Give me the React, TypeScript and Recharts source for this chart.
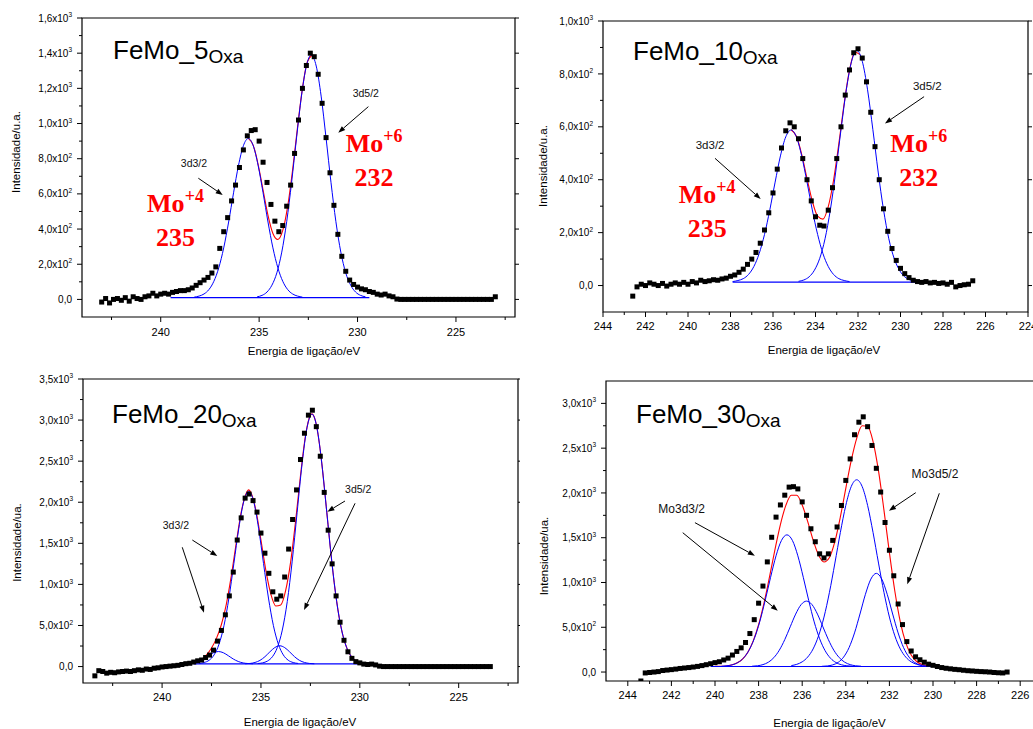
import React from "react";
import {
  ComposedChart,
  Line,
  Scatter,
  XAxis,
  YAxis,
  ReferenceArea,
  ReferenceLine,
  ReferenceDot,
} from "recharts";

const SANS = "'Liberation Sans', Arial, Helvetica, sans-serif";
const SERIF = "'Liberation Serif', 'Times New Roman', serif";

type Pt = { x: number; y: number };
const onGrid = (start: number, step: number, ys: number[]): Pt[] =>
  ys.map((y, i) => ({ x: Math.round((start - i * step) * 1000) / 1000, y }));
const onList = (xs: number[], ys: number[]): Pt[] => ys.map((y, i) => ({ x: xs[i], y }));

// ---------------- Panel 1 : FeMo_5 ----------------
const p1PointStart = 243.0;
const p1Points = [
  -15, 5, -20, 0, 5, -5, 10, -10, 15, 5,
  0, 15, 20, 35, 20, 30, 35, 30, 40, 45,
  50, 50, 55, 65, 80, 95, 110, 125, 150, 185,
  290, 385, 465, 560, 650, 750, 850, 930, 960, 965,
  900, 780, 665, 540, 445, 385, 420, 530, 650, 830,
  1020, 1200, 1330, 1400, 1380, 1280, 1115, 920, 720, 535,
  370, 245, 160, 110, 85, 70, 60, 55, 45, 40,
  30, 25, 30, 20, 15, 2,
  0, 0, 0, 0, 0, 0, 0, 0, 0, 0, 0, 0, 0, 0, 0, 0, 0, 0, 0, 0, 0, 0, 0, 0,
  15,
];
const p1CompAStart = 238.3;
const p1CompA = [13, 19, 31, 56, 103, 180, 293, 440, 606, 761, 874, 915, 874, 761, 606, 440, 293, 180, 103, 56, 31, 19, 13];
const p1CompBStart = 235.1;
const p1CompB = [15, 23, 42, 81, 151, 269, 442, 666, 918, 1156, 1327, 1390, 1327, 1156, 918, 666, 442, 269, 151, 81, 42, 23, 15];
const p1FitStart = 235.55;
const p1Fit = [916, 876, 767, 622, 478, 375, 341, 392, 529, 736, 978, 1200, 1351, 1390];
const p1BaseX = [239.5, 229.4];
const p1BaseY = [10, 10];
const p1XMajor = [240, 235, 230, 225];
const p1XMinor = [242.5, 237.5, 232.5, 227.5, 222.5];
const p1YMajor = [0, 200, 400, 600, 800, 1000, 1200, 1400, 1600];
const p1YMinor = [100, 300, 500, 700, 900, 1100, 1300, 1500];

// ---------------- Panel 2 : FeMo_10 ----------------
const p2PointStart = 242.6;
const p2Points = [
  -40, -5, 5, 0, 10, 5, 0, 8, -2, 5,
  10, 5, 12, 5, 15, 10, 20, 15, 18, 22,
  20, 25, 28, 35, 40, 50, 62, 80, 100, 125,
  160, 210, 275, 350, 440, 520, 585, 615, 600, 555,
  480, 400, 320, 260, 228, 225, 285, 370, 480, 600,
  720, 815, 880, 895, 860, 770, 655, 525, 400, 290,
  205, 140, 95, 65, 45, 30, 20, 15, 12, 15,
  10, 12, 8, 10, 5, 12, -5, 0, 3, 5,
  18,
];
const p2CompAStart = 237.9;
const p2CompA = [15, 19, 26, 42, 72, 121, 193, 286, 391, 490, 562, 588, 562, 490, 391, 286, 193, 121, 72, 42, 26, 19, 15];
const p2CompBStart = 234.8;
const p2CompB = [16, 21, 33, 58, 103, 177, 287, 429, 589, 740, 848, 888, 848, 740, 589, 429, 287, 177, 103, 58, 33, 21, 16];
const p2FitStart = 235.15;
const p2Fit = [589, 564, 496, 405, 319, 262, 251, 298, 398, 537, 688, 814, 882, 873];
const p2BaseX = [237.9, 228.2];
const p2BaseY = [13, 13];
const p2XMajor = [244, 242, 240, 238, 236, 234, 232, 230, 228, 226, 224];
const p2XMinor = [243, 241, 239, 237, 235, 233, 231, 229, 227, 225];
const p2YMajor = [0, 200, 400, 600, 800, 1000];
const p2YMinor = [100, 300, 500, 700, 900];

// ---------------- Panel 3 : FeMo_20 ----------------
const p3PointStart = 243.4;
const p3Points = [
  -113, -50, -60, -80, -70, -75, -65, -60, -55, -60,
  -50, -40, -45, -30, -35, -20, -15, -5, 0, 5,
  10, 15, 25, 35, 40, 55, 70, 80, 110, 140,
  200, 310, 440, 630, 860, 1150, 1540, 1810, 2050, 2100,
  2020, 1880, 1625, 1380, 1135, 910, 820, 860, 1090, 1430,
  1790, 2150, 2520, 2840, 3060, 3120, 2920, 2560, 2120, 1660,
  1250, 860, 540, 320, 180, 100, 60, 45, 30, 25,
  30, 20, 5,
  0, 0, 0, 0, 0, 0, 0, 0, 0, 0, 0, 0, 0, 0, 0, 0, 0, 0, 0, 0, 0, 0, 0, 0, 0, 0, 0, 0,
];
const p3CompAStart = 238.12;
const p3CompA = [38, 49, 77, 142, 273, 498, 834, 1254, 1683, 2010, 2133, 2010, 1683, 1254, 834, 498, 273, 142, 77, 49, 38];
const p3CompBStart = 235.17;
const p3CompB = [37, 45, 67, 120, 233, 444, 791, 1283, 1877, 2467, 2909, 3073, 2909, 2467, 1877, 1283, 791, 444, 233, 120, 67, 45, 37];
const p3CompCStart = 238.9;
const p3CompC = [34, 37, 44, 62, 92, 132, 168, 183, 168, 132, 92, 62, 44, 37, 34];
const p3CompDStart = 235.8;
const p3CompD = [34, 38, 50, 75, 120, 179, 231, 253, 231, 179, 120, 75, 50, 38, 34];
const p3FitX = [
  238.0, 237.75, 237.5, 237.25, 237.0, 236.75, 236.5, 236.25, 236.0, 235.75, 235.62, 235.5,
  235.25, 235.0, 234.75, 234.5, 234.25, 234.0, 233.75, 233.5, 233.25, 233.0, 232.75, 232.5,
  232.42, 232.25, 232.0, 231.75, 231.5, 231.25, 231.0, 230.75, 230.5, 230.25, 230.0,
];
const p3Fit = [
  87, 142, 226, 343, 512, 761, 1103, 1504, 1877, 2107, 2150, 2114,
  1895, 1540, 1167, 881, 738, 749, 926, 1271, 1766, 2326, 2805, 3060,
  3076, 2997, 2632, 2073, 1465, 933, 539, 288, 148, 79, 50,
];
const p3BaseX = [238.4, 229.8];
const p3BaseY = [33, 33];
const p3XMajor = [240, 235, 230, 225];
const p3XMinor = [242.5, 237.5, 232.5, 227.5, 222.5];
const p3YMajor = [0, 500, 1000, 1500, 2000, 2500, 3000, 3500];
const p3YMinor = [250, 750, 1250, 1750, 2250, 2750, 3250];

// ---------------- Panel 4 : FeMo_30 ----------------
const p4PointStart = 243.4;
const p4Points = [
  -100, -10, -5, 0, 5, 17, 22, 27, 33, 40,
  45, 50, 56, 63, 72, 82, 93, 105, 115, 135,
  155, 190, 230, 270, 330, 430, 585, 769, 960, 1230,
  1505, 1730, 1866, 1975, 2065, 2070, 2045, 1900, 1750, 1600,
  1455, 1320, 1275, 1320, 1470, 1620, 1860, 2140, 2380, 2650,
  2790, 2850, 2740, 2530, 2275, 2010, 1670, 1360, 1075, 760,
  530, 340, 235, 170, 137, 110, 88, 75, 62, 50,
  42, 36, 30, 26, 20, 15, 12, 8, 5, 3,
  0, -5, -8, -10, 0,
];
const p4CompA1Start = 239.7;
const p4CompA1 = [65, 70, 81, 106, 154, 239, 372, 560, 798, 1058, 1298, 1470, 1532, 1470, 1298, 1058, 798, 560, 372, 239, 154, 106, 81, 70, 65];
const p4CompA2Start = 238.3;
const p4CompA2 = [65, 70, 83, 110, 161, 244, 362, 505, 647, 753, 792, 753, 647, 505, 362, 244, 161, 110, 83, 70, 65];
const p4CompB1Start = 236.5;
const p4CompB1 = [72, 86, 114, 167, 258, 404, 614, 890, 1217, 1558, 1861, 2072, 2147, 2072, 1861, 1558, 1217, 890, 614, 404, 258, 167, 114, 86, 72];
const p4CompB2Start = 235.1;
const p4CompB2 = [64, 68, 80, 108, 167, 273, 437, 648, 868, 1038, 1102, 1038, 868, 648, 437, 273, 167, 108, 80, 68, 64];
const p4FitStart = 240.0;
const p4Fit = [
  63, 64, 68, 78, 100, 142, 219, 345, 528, 772, 1062, 1367, 1647, 1861, 1974, 1974, 1865, 1682, 1475, 1306,
  1229, 1279, 1458, 1732, 2052, 2363, 2610, 2750, 2745, 2574, 2246, 1808, 1334, 902, 561, 329, 190, 118, 84, 70, 64,
];
const p4BaseX = [240.2, 230.1];
const p4BaseY = [62, 62];
const p4XMajor = [244, 242, 240, 238, 236, 234, 232, 230, 228, 226];
const p4XMinor = [243, 241, 239, 237, 235, 233, 231, 229, 227];
const p4YMajor = [0, 500, 1000, 1500, 2000, 2500, 3000];
const p4YMinor = [250, 750, 1250, 1750, 2250, 2750];

// ---------------- Annotations (data coordinates) ----------------
type Note = { x: number; y: number; text: string; size: number };
type Arrow = { x1: number; y1: number; x2: number; y2: number };
type Ox = { x: number; y: number; sup: string; num: string };

const p1Notes: Note[] = [
  { x: 238.31, y: 776, text: "3d3/2", size: 10.5 },
  { x: 229.58, y: 1172, text: "3d5/2", size: 10.5 },
];
const p1Arrows: Arrow[] = [
  { x1: 238.09, y1: 689, x2: 236.85, y2: 594 },
  { x1: 229.45, y1: 1096, x2: 230.98, y2: 948 },
];
const p1Ox: Ox[] = [
  { x: 239.25, y: 497, sup: "+4", num: "235" },
  { x: 229.16, y: 836, sup: "+6", num: "232" },
];
const p2Notes: Note[] = [
  { x: 238.96, y: 531, text: "3d3/2", size: 11.5 },
  { x: 228.74, y: 754, text: "3d5/2", size: 11.5 },
];
const p2Arrows: Arrow[] = [
  { x1: 238.73, y1: 481, x2: 236.58, y2: 327 },
  { x1: 228.89, y1: 714, x2: 230.73, y2: 613 },
];
const p2Ox: Ox[] = [
  { x: 239.1, y: 311, sup: "+4", num: "235" },
  { x: 229.14, y: 506, sup: "+6", num: "232" },
];
const p3Notes: Note[] = [
  { x: 239.3, y: 1715, text: "3d3/2", size: 10.5 },
  { x: 230.08, y: 2161, text: "3d5/2", size: 10.5 },
];
const p3Arrows: Arrow[] = [
  { x1: 238.47, y1: 1540, x2: 237.21, y2: 1346 },
  { x1: 238.98, y1: 1452, x2: 237.88, y2: 656 },
  { x1: 230.75, y1: 2015, x2: 231.64, y2: 1885 },
  { x1: 230.24, y1: 1987, x2: 232.82, y2: 688 },
];
const p4Notes: Note[] = [
  { x: 241.53, y: 1828, text: "Mo3d3/2", size: 12 },
  { x: 229.91, y: 2219, text: "Mo3d5/2", size: 12 },
];
const p4Arrows: Arrow[] = [
  { x1: 240.92, y1: 1668, x2: 238.17, y2: 1299 },
  { x1: 241.48, y1: 1556, x2: 237.12, y2: 685 },
  { x1: 230.79, y1: 2003, x2: 232.02, y2: 1802 },
  { x1: 229.71, y1: 1996, x2: 231.18, y2: 980 },
];

// ---------------- Rendering helpers ----------------
const fmtY = (v: number) => {
  if (v === 0) return { m: "0,0", e: "" };
  if (Math.abs(v) >= 1000) return { m: (v / 1000).toFixed(1).replace(".", ",") + "x10", e: "3" };
  return { m: (v / 100).toFixed(1).replace(".", ",") + "x10", e: "2" };
};

const XTick = (props: any) => {
  const { x, y, payload, majors, offset } = props;
  const major = majors.includes(payload.value);
  return (
    <g>
      <line x1={x} y1={y} x2={x} y2={y + (major ? 5 : 3)} stroke="#000" strokeWidth={1} />
      {major && (
        <text x={x} y={y + offset} textAnchor="middle" fontSize={11} fontFamily={SANS} fill="#000">
          {payload.value}
        </text>
      )}
    </g>
  );
};

const YTick = (props: any) => {
  const { x, y, payload, majors } = props;
  const major = majors.includes(payload.value);
  const f = fmtY(payload.value);
  return (
    <g>
      <line x1={x - (major ? 5 : 3)} y1={y} x2={x} y2={y} stroke="#000" strokeWidth={1} />
      {major && (
        <text x={x - 10} y={y + 3.6} textAnchor="end" fontSize={10} fontFamily={SANS} fill="#000">
          <tspan>{f.m}</tspan>
          {f.e && (
            <tspan dy={-4.5} fontSize={6.5}>
              {f.e}
            </tspan>
          )}
        </text>
      )}
    </g>
  );
};

const RightTick = (props: any) => {
  const { x, y } = props;
  return <line x1={x} y1={y} x2={x + 4} y2={y} stroke="#000" strokeWidth={1} />;
};

const squareShape = (s: any) => (
  <rect x={s.cx - 2.5} y={s.cy - 2.5} width={5} height={5} fill="#000" />
);

const arrowShape = (p: any) => {
  const { x1, y1, x2, y2 } = p;
  const dx = x2 - x1;
  const dy = y2 - y1;
  const len = Math.hypot(dx, dy) || 1;
  const ux = dx / len;
  const uy = dy / len;
  const hl = 7;
  const hw = 2.6;
  const bx = x2 - ux * hl;
  const by = y2 - uy * hl;
  return (
    <g>
      <line x1={x1} y1={y1} x2={bx} y2={by} stroke="#000" strokeWidth={1} />
      <polygon
        points={`${x2},${y2} ${bx - uy * hw},${by + ux * hw} ${bx + uy * hw},${by - ux * hw}`}
        fill="#000"
      />
    </g>
  );
};

const noteShape = (n: Note) => (s: any) => (
  <text x={s.cx} y={s.cy} dy="0.35em" textAnchor="middle" fontSize={n.size} fontFamily={SANS} fill="#111">
    {n.text}
  </text>
);

const oxShape = (o: Ox) => (s: any) => (
  <text
    x={s.cx}
    y={s.cy}
    textAnchor="middle"
    fontSize={26}
    fontWeight="bold"
    fontFamily={SERIF}
    fill="#ff0000"
  >
    <tspan>Mo</tspan>
    <tspan fontSize={18} dy={-10}>
      {o.sup}
    </tspan>
    <tspan x={s.cx} dy={44}>
      {o.num}
    </tspan>
  </text>
);

type PanelProps = {
  width: number;
  height: number;
  top: number;
  rightWidth: number;
  yAxisWidth: number;
  xAxisHeight: number;
  xDomain: [number, number];
  yDomain: [number, number];
  xMajor: number[];
  xMinor: number[];
  yMajor: number[];
  yMinor: number[];
  xLabelOffset: number;
  points: Pt[];
  baseline: Pt[];
  envelope: Pt[];
  components: Pt[][];
  notes: Note[];
  arrows: Arrow[];
  ox: Ox[];
};

function Panel(p: PanelProps) {
  const xTicks = [...p.xMajor, ...p.xMinor].sort((a, b) => a - b);
  const yTicks = [...p.yMajor, ...p.yMinor].sort((a, b) => a - b);
  return (
    <ComposedChart width={p.width} height={p.height} margin={{ top: p.top, right: 0, bottom: 0, left: 0 }}>
      <XAxis
        type="number"
        dataKey="x"
        domain={p.xDomain}
        reversed
        allowDataOverflow
        ticks={xTicks}
        interval={0}
        height={p.xAxisHeight}
        axisLine={false}
        tickLine={false}
        tickSize={0}
        tickMargin={0}
        tick={(t: any) => <XTick {...t} majors={p.xMajor} offset={p.xLabelOffset} />}
      />
      <YAxis
        type="number"
        dataKey="y"
        domain={p.yDomain}
        allowDataOverflow
        ticks={yTicks}
        interval={0}
        width={p.yAxisWidth}
        axisLine={false}
        tickLine={false}
        tickSize={0}
        tickMargin={0}
        tick={(t: any) => <YTick {...t} majors={p.yMajor} />}
      />
      <YAxis
        yAxisId="right"
        orientation="right"
        type="number"
        domain={p.yDomain}
        allowDataOverflow
        ticks={p.yMajor}
        interval={0}
        width={p.rightWidth}
        axisLine={false}
        tickLine={false}
        tickSize={0}
        tickMargin={0}
        tick={(t: any) => <RightTick {...t} />}
      />
      <ReferenceArea
        x1={p.xDomain[0]}
        x2={p.xDomain[1]}
        y1={p.yDomain[0]}
        y2={p.yDomain[1]}
        fill="none"
        fillOpacity={0}
        stroke="#000"
        strokeWidth={1.2}
        strokeOpacity={1}
      />
      <Line
        data={p.envelope}
        dataKey="y"
        type="monotone"
        stroke="#ff0000"
        strokeWidth={1.1}
        dot={false}
        activeDot={false}
        isAnimationActive={false}
      />
      {p.components.map((c, i) => (
        <Line
          key={"c" + i}
          data={c}
          dataKey="y"
          type="monotone"
          stroke="#0000ff"
          strokeWidth={1}
          dot={false}
          activeDot={false}
          isAnimationActive={false}
        />
      ))}
      <Line
        data={p.baseline}
        dataKey="y"
        type="linear"
        stroke="#0000ff"
        strokeWidth={1.2}
        dot={false}
        activeDot={false}
        isAnimationActive={false}
      />
      <Scatter data={p.points} dataKey="y" fill="#000" shape={squareShape} isAnimationActive={false} />
      {p.arrows.map((a, i) => (
        <ReferenceLine
          key={"a" + i}
          segment={[
            { x: a.x1, y: a.y1 },
            { x: a.x2, y: a.y2 },
          ]}
          stroke="#000"
          shape={arrowShape}
        />
      ))}
      {p.notes.map((n, i) => (
        <ReferenceDot key={"n" + i} x={n.x} y={n.y} r={1} shape={noteShape(n)} />
      ))}
      {p.ox.map((o, i) => (
        <ReferenceDot key={"o" + i} x={o.x} y={o.y} r={1} shape={oxShape(o)} />
      ))}
    </ComposedChart>
  );
}

const Title = ({ x, y, main }: { x: number; y: number; main: string }) => (
  <text x={x} y={y} fontFamily={SANS} fontSize={26} fill="#000">
    <tspan>{main}</tspan>
    <tspan fontSize={19} dy={4}>
      Oxa
    </tspan>
  </text>
);

const XTitle = ({ x, y }: { x: number; y: number }) => (
  <text x={x} y={y} textAnchor="middle" fontFamily={SANS} fontSize={11.5} fill="#000">
    Energia de ligação/eV
  </text>
);

const YTitle = ({ x, y, label }: { x: number; y: number; label: string }) => (
  <text
    transform={`translate(${x},${y}) rotate(-90)`}
    textAnchor="middle"
    fontFamily={SANS}
    fontSize={11.5}
    fill="#000"
  >
    {label}
  </text>
);

export default function App() {
  const panel1 = (
    <Panel
      width={520}
      height={360}
      top={18}
      rightWidth={5}
      yAxisWidth={82}
      xAxisHeight={43}
      xDomain={[222, 244]}
      yDomain={[-100, 1600]}
      xMajor={p1XMajor}
      xMinor={p1XMinor}
      yMajor={p1YMajor}
      yMinor={p1YMinor}
      xLabelOffset={19}
      points={onGrid(p1PointStart, 0.2, p1Points)}
      baseline={onList(p1BaseX, p1BaseY)}
      envelope={onGrid(p1FitStart, 0.25, p1Fit)}
      components={[onGrid(p1CompAStart, 0.25, p1CompA), onGrid(p1CompBStart, 0.25, p1CompB)]}
      notes={p1Notes}
      arrows={p1Arrows}
      ox={p1Ox}
    />
  );
  const panel2 = (
    <Panel
      width={513}
      height={360}
      top={21}
      rightWidth={5}
      yAxisWidth={83}
      xAxisHeight={48}
      xDomain={[224, 244]}
      yDomain={[-100, 1000]}
      xMajor={p2XMajor}
      xMinor={p2XMinor}
      yMajor={p2YMajor}
      yMinor={p2YMinor}
      xLabelOffset={18}
      points={onGrid(p2PointStart, 0.2, p2Points)}
      baseline={onList(p2BaseX, p2BaseY)}
      envelope={onGrid(p2FitStart, 0.25, p2Fit)}
      components={[onGrid(p2CompAStart, 0.25, p2CompA), onGrid(p2CompBStart, 0.25, p2CompB)]}
      notes={p2Notes}
      arrows={p2Arrows}
      ox={p2Ox}
    />
  );
  const panel3 = (
    <Panel
      width={520}
      height={369}
      top={19}
      rightWidth={2}
      yAxisWidth={83}
      xAxisHeight={46}
      xDomain={[222, 244]}
      yDomain={[-200, 3500]}
      xMajor={p3XMajor}
      xMinor={p3XMinor}
      yMajor={p3YMajor}
      yMinor={p3YMinor}
      xLabelOffset={18.3}
      points={onGrid(p3PointStart, 0.2, p3Points)}
      baseline={onList(p3BaseX, p3BaseY)}
      envelope={onList(p3FitX, p3Fit)}
      components={[
        onGrid(p3CompAStart, 0.25, p3CompA),
        onGrid(p3CompBStart, 0.25, p3CompB),
        onGrid(p3CompCStart, 0.25, p3CompC),
        onGrid(p3CompDStart, 0.25, p3CompD),
      ]}
      notes={p3Notes}
      arrows={p3Arrows}
      ox={[]}
    />
  );
  const panel4 = (
    <Panel
      width={525}
      height={369}
      top={21}
      rightWidth={3}
      yAxisWidth={86}
      xAxisHeight={48}
      xDomain={[225, 245]}
      yDomain={[-100, 3250]}
      xMajor={p4XMajor}
      xMinor={p4XMinor}
      yMajor={p4YMajor}
      yMinor={p4YMinor}
      xLabelOffset={18.3}
      points={onGrid(p4PointStart, 0.2, p4Points)}
      baseline={onList(p4BaseX, p4BaseY)}
      envelope={onGrid(p4FitStart, 0.25, p4Fit)}
      components={[
        onGrid(p4CompA1Start, 0.25, p4CompA1),
        onGrid(p4CompA2Start, 0.25, p4CompA2),
        onGrid(p4CompB1Start, 0.25, p4CompB1),
        onGrid(p4CompB2Start, 0.25, p4CompB2),
      ]}
      notes={p4Notes}
      arrows={p4Arrows}
      ox={[]}
    />
  );

  return (
    <div
      style={{
        position: "absolute",
        left: 0,
        top: 0,
        width: 1033,
        height: 729,
        overflow: "hidden",
        background: "#fff",
      }}
    >
      <div style={{ position: "absolute", left: 0, top: 0, width: 520, height: 360 }}>{panel1}</div>
      <div style={{ position: "absolute", left: 520, top: 0, width: 513, height: 360, overflow: "hidden" }}>
        {panel2}
      </div>
      <div style={{ position: "absolute", left: 0, top: 360, width: 520, height: 369 }}>{panel3}</div>
      <div style={{ position: "absolute", left: 520, top: 360, width: 513, height: 369, overflow: "hidden" }}>
        {panel4}
      </div>
      <svg
        width={1033}
        height={729}
        style={{ position: "absolute", left: 0, top: 0, pointerEvents: "none" }}
      >
        <Title x={113} y={59} main="FeMo_5" />
        <Title x={633} y={60} main="FeMo_10" />
        <Title x={112} y={423} main="FeMo_20" />
        <Title x={636} y={423} main="FeMo_30" />
        <XTitle x={304} y={355} />
        <XTitle x={824} y={354} />
        <XTitle x={300} y={725.5} />
        <XTitle x={829.5} y={727} />
        <YTitle x={20} y={152} label="Intensidade/u.a." />
        <YTitle x={547} y={166} label="Intensidade/u.a." />
        <YTitle x={20.5} y={542.5} label="Intensidade/ua." />
        <YTitle x={548} y={556} label="Intensidade/ua." />
      </svg>
    </div>
  );
}
